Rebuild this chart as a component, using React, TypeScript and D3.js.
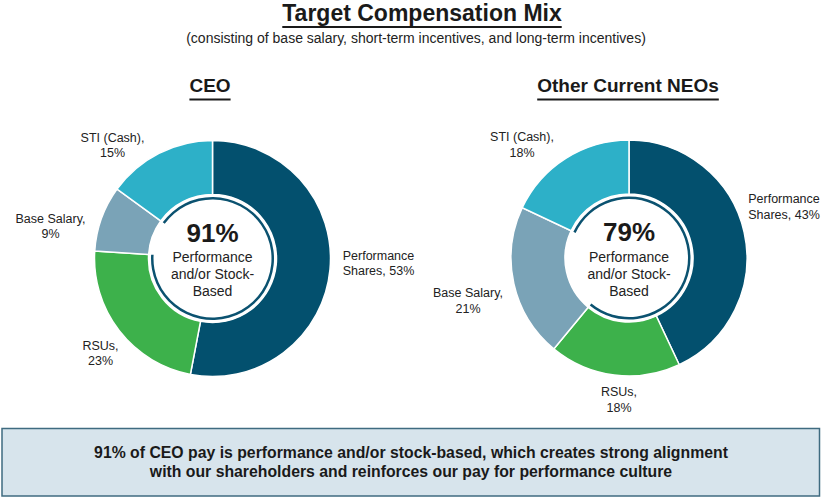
import React from "react";
import * as d3 from "d3";

const categories = ["Performance Shares", "RSUs", "Base Salary", "STI (Cash)"];
const ceoValues = [53, 23, 9, 15];
const neoValues = [43, 18, 21, 18];
const ceoLabels = [
  ["Performance", "Shares, 53%"],
  ["RSUs,", "23%"],
  ["Base Salary,", "9%"],
  ["STI (Cash),", "15%"],
];
const neoLabels = [
  ["Performance", "Shares, 43%"],
  ["RSUs,", "18%"],
  ["Base Salary,", "21%"],
  ["STI (Cash),", "18%"],
];
const ceoCenter = "91%";
const neoCenter = "79%";
const colors = ["#03506E", "#3DB14B", "#7AA3B7", "#2DB0C8"];

const FONT = "'Liberation Sans', Arial, sans-serif";

// label anchor positions relative to donut center (layout only)
const ceoLabelPos = [
  [166, 1],
  [-112, 91],
  [-162, -36],
  [-100, -117],
];
const neoLabelPos = [
  [155, -55],
  [-10, 138],
  [-161, 39],
  [-107, -117],
];

function Donut({ cx, cy, values, labels, labelPos, center, title, titleX }: any) {
  const pie = d3.pie<number>().sort(null).value((d) => d);
  const arcs = pie(values);
  const outerR = 118;
  const innerR = 64;
  const arc = d3.arc<any>().innerRadius(innerR).outerRadius(outerR);
  const base = arcs[2];
  const ring = d3
    .arc<any>()
    .innerRadius(59)
    .outerRadius(61.5)({ startAngle: base.endAngle, endAngle: base.startAngle + 2 * Math.PI } as any);
  return (
    <g>
      <text x={titleX} y={92} textAnchor="middle" fontFamily={FONT} fontWeight="bold" fontSize={19} fill="#1a1a1a">
        {title}
      </text>
      <TitleUnderline cx={titleX} y={98.5} title={title} size={19} />
      <g transform={`translate(${cx},${cy})`}>
        {arcs.map((a, i) => (
          <path key={categories[i]} d={arc(a) as string} fill={colors[i]} stroke="#fff" strokeWidth={1.5} />
        ))}
        <circle r={innerR} fill="#fff" />
        <path d={ring as string} fill="#0B5270" />
        <text y={-17} textAnchor="middle" fontFamily={FONT} fontWeight="bold" fontSize={26} fill="#1a1a1a">
          {center}
        </text>
        {["Performance", "and/or Stock-", "Based"].map((t, i) => (
          <text key={t} y={3.5 + i * 17} textAnchor="middle" fontFamily={FONT} fontSize={14} fill="#222">
            {t}
          </text>
        ))}
        {labels.map((ls: string[], i: number) => (
          <text key={i} textAnchor="middle" fontFamily={FONT} fontSize={12.5} fill="#222">
            {ls.map((l, j) => (
              <tspan key={j} x={labelPos[i][0]} y={labelPos[i][1] + j * 15.5}>
                {l}
              </tspan>
            ))}
          </text>
        ))}
      </g>
    </g>
  );
}

function TitleUnderline({ cx, y, title, size }: any) {
  let w = title.length * size * 0.55;
  if (typeof document !== "undefined") {
    const c = document.createElement("canvas").getContext("2d");
    if (c) {
      c.font = `bold ${size}px ${FONT}`;
      w = c.measureText(title).width;
    }
  }
  return <rect x={cx - w / 2} y={y} width={w} height={2} fill="#1a1a1a" />;
}

export default function App() {
  return (
    <svg width={822} height={500} style={{ display: "block", position: "absolute", left: 0, top: 0 }}>
      <rect width={822} height={500} fill="#fff" />
      <text x={422} y={21} textAnchor="middle" fontFamily={FONT} fontWeight="bold" fontSize={23} fill="#1a1a1a">
        Target Compensation Mix
      </text>
      <TitleUnderline cx={422} y={26} title="Target Compensation Mix" size={23} />
      <text x={416} y={43} textAnchor="middle" fontFamily={FONT} fontSize={14} fill="#222">
        (consisting of base salary, short-term incentives, and long-term incentives)
      </text>
      <Donut cx={212.5} cy={258.5} titleX={210} values={ceoValues} labels={ceoLabels} labelPos={ceoLabelPos} center={ceoCenter} title="CEO" />
      <Donut cx={629} cy={258} titleX={628} values={neoValues} labels={neoLabels} labelPos={neoLabelPos} center={neoCenter} title="Other Current NEOs" />
      <rect x={2} y={428.5} width={817.5} height={67.5} fill="#D7E4EC" stroke="#3F6B80" strokeWidth={1.5} />
      <text x={411} y={458} textAnchor="middle" fontFamily={FONT} fontWeight="bold" fontSize={15.8} fill="#1a1a1a">
        91% of CEO pay is performance and/or stock-based, which creates strong alignment
      </text>
      <text x={411} y={476.5} textAnchor="middle" fontFamily={FONT} fontWeight="bold" fontSize={15.8} fill="#1a1a1a">
        with our shareholders and reinforces our pay for performance culture
      </text>
    </svg>
  );
}
